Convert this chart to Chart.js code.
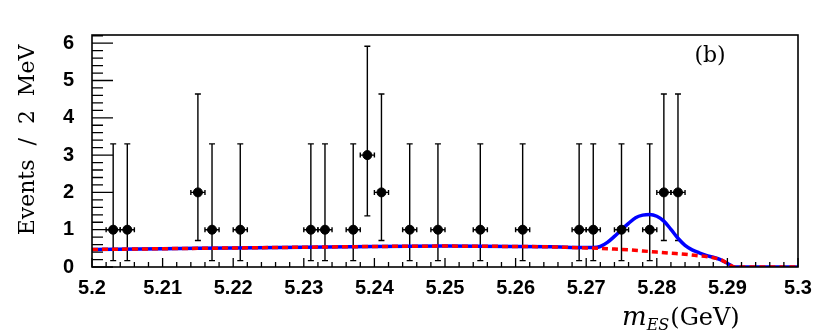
<!DOCTYPE html>
<html>
<head>
<meta charset="utf-8">
<script src="https://cdn.jsdelivr.net/npm/chart.js@4"></script>
<style>
  body { margin: 0; background: #fff; }
  canvas { display: block; }
</style>
</head>
<body>
<canvas id="mes-chart" width="830" height="336"></canvas>
<script>
// data points (bin centres, 2 MeV bins)
const massBins = [5.203, 5.205, 5.215, 5.217, 5.221, 5.231, 5.233, 5.237, 5.239, 5.241,
                  5.245, 5.249, 5.255, 5.261, 5.269, 5.271, 5.275, 5.279, 5.281, 5.283];
const events   = [1, 1, 2, 1, 1, 1, 1, 1, 3, 2, 1, 1, 1, 1, 1, 1, 1, 1, 2, 2];
const errLow   = [0.17, 0.17, 0.71, 0.17, 0.17, 0.17, 0.17, 0.17, 1.37, 0.71,
                  0.17, 0.17, 0.17, 0.17, 0.17, 0.17, 0.17, 0.17, 0.71, 0.71];
const errHigh  = [3.30, 3.30, 4.64, 3.30, 3.30, 3.30, 3.30, 3.30, 5.92, 4.64,
                  3.30, 3.30, 3.30, 3.30, 3.30, 3.30, 3.30, 3.30, 4.64, 4.64];
const binHalfWidth = 0.001;

// total fit (blue)
const fitMass  = [5.200, 5.210, 5.220, 5.230, 5.240, 5.250, 5.260, 5.265, 5.270, 5.271, 5.272,
                  5.273, 5.274, 5.275, 5.276, 5.277, 5.278, 5.279, 5.280, 5.281, 5.282, 5.283,
                  5.284, 5.285, 5.286, 5.287, 5.288, 5.289, 5.290, 5.291, 5.300];
const fitTotal = [0.47, 0.49, 0.51, 0.53, 0.55, 0.56, 0.55, 0.54, 0.52, 0.52, 0.55,
                  0.66, 0.82, 1.00, 1.17, 1.32, 1.39, 1.41, 1.36, 1.23, 1.01, 0.77,
                  0.58, 0.46, 0.38, 0.31, 0.26, 0.20, 0.10, 0.00, 0.00];

// background only (red dashed)
const bkgMass  = [5.200, 5.210, 5.220, 5.230, 5.240, 5.250, 5.260, 5.265, 5.270, 5.272,
                  5.274, 5.276, 5.278, 5.280, 5.282, 5.284, 5.286, 5.287, 5.288, 5.289,
                  5.290, 5.291, 5.300];
const bkgFit   = [0.47, 0.49, 0.51, 0.53, 0.55, 0.56, 0.55, 0.54, 0.51, 0.50,
                  0.48, 0.46, 0.43, 0.40, 0.37, 0.34, 0.30, 0.28, 0.25, 0.20,
                  0.10, 0.00, 0.00];

const xTicks = { min: 5.2, max: 5.3, step: 0.01 };
const yTicks = { min: 0, max: 6.22, step: 1 };

const toXY = (xs, ys) => xs.map((x, i) => ({ x: x, y: ys[i] }));

const tickFont = { family: 'Liberation Sans', size: 20, weight: 'bold' };

const rootFrame = {
  id: 'rootFrame',
  beforeDatasetsDraw(chart) {
    const ctx = chart.ctx;
    const xs = chart.scales.x, ys = chart.scales.y;
    ctx.save();
    ctx.strokeStyle = '#000';
    ctx.lineWidth = 1.4;
    massBins.forEach((m, i) => {
      const px = xs.getPixelForValue(m);
      const py = ys.getPixelForValue(events[i]);
      const pLo = ys.getPixelForValue(errLow[i]);
      const pHi = ys.getPixelForValue(errHigh[i]);
      const pL = xs.getPixelForValue(m - binHalfWidth);
      const pR = xs.getPixelForValue(m + binHalfWidth);
      ctx.beginPath();
      ctx.moveTo(px, pLo); ctx.lineTo(px, pHi);
      ctx.moveTo(px - 3, pLo); ctx.lineTo(px + 3, pLo);
      ctx.moveTo(px - 3, pHi); ctx.lineTo(px + 3, pHi);
      ctx.moveTo(pL, py); ctx.lineTo(pR, py);
      ctx.moveTo(pL, py - 2.5); ctx.lineTo(pL, py + 2.5);
      ctx.moveTo(pR, py - 2.5); ctx.lineTo(pR, py + 2.5);
      ctx.stroke();
    });
    ctx.restore();
  },
  afterDraw(chart) {
    const ctx = chart.ctx;
    const a = chart.chartArea;
    const xs = chart.scales.x, ys = chart.scales.y;
    ctx.save();
    ctx.strokeStyle = '#000';
    ctx.lineWidth = 1.6;
    ctx.strokeRect(a.left, a.top, a.right - a.left, a.bottom - a.top);

    // inner ticks
    ctx.lineWidth = 1.3;
    ctx.beginPath();
    for (let i = 0; i <= 31; i++) {
      const py = ys.getPixelForValue(i / 5);
      const len = i % 5 === 0 ? 21 : 11;
      ctx.moveTo(a.left, py); ctx.lineTo(a.left + len, py);
    }
    for (let i = 0; i <= 50; i++) {
      const px = xs.getPixelForValue(5.2 + i * 0.002);
      const len = i % 5 === 0 ? 9 : 5;
      ctx.moveTo(px, a.bottom); ctx.lineTo(px, a.bottom - len);
    }
    ctx.stroke();

    ctx.fillStyle = '#000';
    // y title
    ctx.save();
    ctx.translate(28, 140);
    ctx.rotate(-Math.PI / 2);
    ctx.font = '22px "DejaVu Serif"';
    ctx.textAlign = 'center';
    ctx.textBaseline = 'middle';
    ctx.fillText('Events  /  2  MeV', 0, 0);
    ctx.restore();

    // x title
    ctx.textAlign = 'left';
    ctx.textBaseline = 'alphabetic';
    let x = 622;
    ctx.font = 'italic 26px "DejaVu Serif"';
    ctx.fillText('m', x, 325);
    x += ctx.measureText('m').width;
    ctx.font = 'italic 16px "DejaVu Serif"';
    ctx.fillText('ES', x, 330);
    x += ctx.measureText('ES').width + 1;
    ctx.font = '24px "DejaVu Serif"';
    ctx.fillText('(GeV)', x, 325);

    // panel label
    ctx.font = '22px "DejaVu Serif"';
    ctx.textAlign = 'center';
    ctx.fillText('(b)', 710, 62);
    ctx.restore();
  }
};

new Chart(document.getElementById('mes-chart'), {
  type: 'scatter',
  data: {
    datasets: [
      {
        label: 'data',
        data: toXY(massBins, events),
        backgroundColor: '#000',
        borderColor: '#000',
        pointRadius: 4.5,
        pointHoverRadius: 4.5,
        order: 0
      },
      {
        type: 'line',
        label: 'background',
        data: toXY(bkgMass, bkgFit),
        borderColor: '#ff0000',
        borderWidth: 3.5,
        borderDash: [6, 4],
        pointRadius: 0,
        cubicInterpolationMode: 'monotone',
        fill: false,
        order: 1
      },
      {
        type: 'line',
        label: 'total',
        data: toXY(fitMass, fitTotal),
        borderColor: '#0000ff',
        borderWidth: 3.5,
        pointRadius: 0,
        cubicInterpolationMode: 'monotone',
        fill: false,
        order: 2
      }
    ]
  },
  options: {
    responsive: false,
    animation: false,
    layout: { padding: { top: 35, right: 32, left: 0, bottom: 0 } },
    plugins: { legend: { display: false }, tooltip: { enabled: false } },
    scales: {
      x: {
        type: 'linear',
        min: xTicks.min,
        max: xTicks.max,
        grid: { display: false, drawTicks: false },
        border: { display: false },
        ticks: {
          stepSize: xTicks.step,
          padding: 9,
          color: '#000',
          font: tickFont,
          maxRotation: 0,
          autoSkip: false,
          callback: v => String(Math.round(v * 100) / 100)
        },
        afterFit: s => { s.height = 69; }
      },
      y: {
        min: yTicks.min,
        max: yTicks.max,
        grid: { display: false, drawTicks: false },
        border: { display: false },
        ticks: {
          stepSize: yTicks.step,
          includeBounds: false,
          padding: 18,
          color: '#000',
          font: tickFont
        },
        afterFit: s => { s.width = 92; }
      }
    }
  },
  plugins: [rootFrame]
});
</script>
</body>
</html>
